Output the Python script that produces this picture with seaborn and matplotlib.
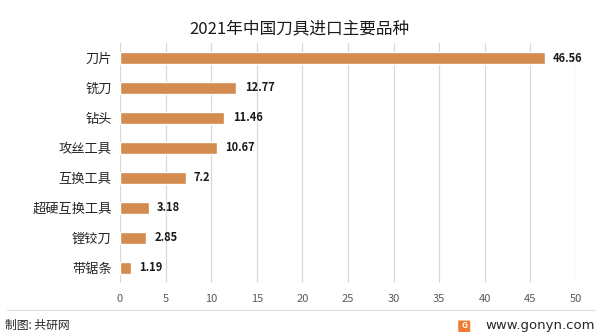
import matplotlib
matplotlib.use("Agg")
import matplotlib.pyplot as plt
import matplotlib.patches as mpatches
import seaborn as sns
import pandas as pd

categories = ["刀片", "铣刀", "钻头", "攻丝工具", "互换工具", "超硬互换工具", "镗铰刀", "带锯条"]
values = [46.56, 12.77, 11.46, 10.67, 7.2, 3.18, 2.85, 1.19]
value_labels = ["46.56", "12.77", "11.46", "10.67", "7.2", "3.18", "2.85", "1.19"]
x_ticks = [0, 5, 10, 15, 20, 25, 30, 35, 40, 45, 50]

sns.set_theme(style="white")
plt.rcParams["font.family"] = ["Noto Sans CJK SC", "DejaVu Sans"]

df = pd.DataFrame({"品种": categories, "进口": values})

fig = plt.figure(figsize=(5.99, 3.36), dpi=100)
ax = fig.add_axes([0.2003, 0.158, 0.7613, 0.714])

sns.barplot(data=df, x="进口", y="品种", color="#D38B4F", width=0.4,
            saturation=1, ax=ax, orient="h")

ax.set_xlim(0, 50)
ax.set_ylim(7.5, -0.5)
ax.set_xticks(x_ticks)
ax.set_xticklabels([str(t) for t in x_ticks], fontsize=8, color="#595959")
ax.tick_params(axis="y", labelsize=9.5, labelcolor="#262626", length=0, pad=6)
ax.tick_params(axis="x", length=0, pad=8)
ax.xaxis.grid(True, color="#D9D9D9", linewidth=0.9)
ax.set_axisbelow(True)
ax.set_xlabel("")
ax.set_ylabel("")
for s in ax.spines.values():
    s.set_visible(False)

for i, (v, lab) in enumerate(zip(values, value_labels)):
    ax.text(v + 0.9, i, lab, va="center", ha="left", fontsize=8,
            fontweight="bold", color="#1a1a1a")

fig.text(0.5, 0.915, "2021年中国刀具进口主要品种", ha="center", va="center",
         fontsize=12, color="#1a1a1a")

# footer separator and credits
fig.add_artist(plt.Line2D([0.012, 0.993], [0.077, 0.077], color="#E3E3E3",
                          linewidth=0.9, transform=fig.transFigure))
fig.text(0.008, 0.030, "制图: 共研网", ha="left", va="center", fontsize=8.5,
         color="#262626")
fig.add_artist(mpatches.FancyBboxPatch((0.766, 0.013), 0.018, 0.032,
                                       boxstyle="round,pad=0.001",
                                       facecolor="#EE7B30", edgecolor="none",
                                       transform=fig.transFigure))
fig.text(0.7752, 0.030, "G", ha="center", va="center", fontsize=6,
         fontweight="bold", color="white")
fig.text(0.993, 0.030, "www.gonyn.com", ha="right", va="center", fontsize=9.5,
         color="#262626", family=["DejaVu Sans"])

fig.savefig("out.png", dpi=100)
